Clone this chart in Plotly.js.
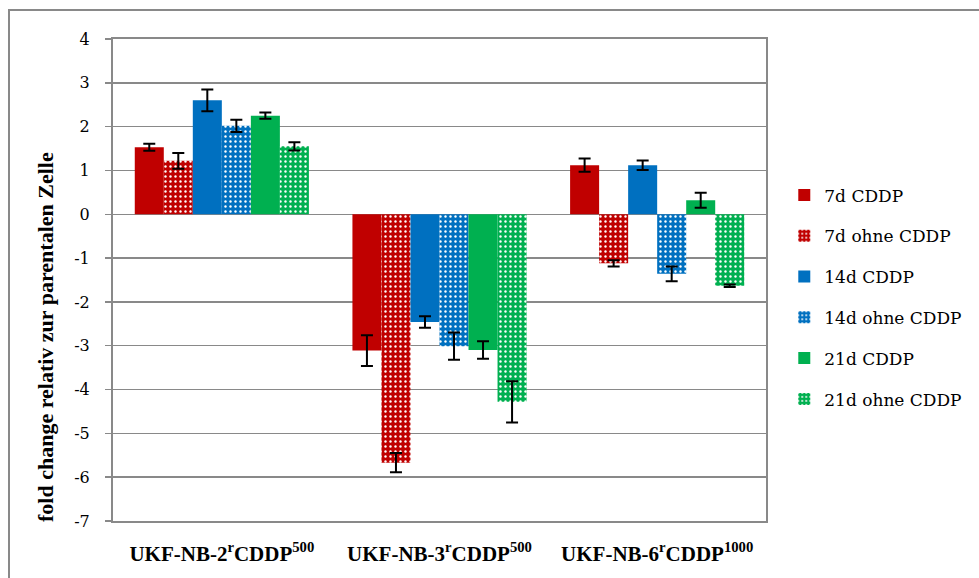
<!DOCTYPE html>
<html><head><meta charset="utf-8">
<script src="https://cdn.plot.ly/plotly-3.0.1.min.js"></script>
<style>body{margin:0;background:#fff}#c{width:979px;height:578px}</style>
</head><body><div id="c"></div>
<script>
const categories = ["UKF-NB-2<sup>r</sup>CDDP<sup>500</sup>", "UKF-NB-3<sup>r</sup>CDDP<sup>500</sup>", "UKF-NB-6<sup>r</sup>CDDP<sup>1000</sup>"];
const seriesNames = ["7d CDDP", "7d ohne CDDP", "14d CDDP", "14d ohne CDDP", "21d CDDP", "21d ohne CDDP"];
const v7d = [1.53, -3.11, 1.12];
const e7d = [0.08, 0.35, 0.15];
const v7dOhne = [1.22, -5.67, -1.12];
const e7dOhne = [0.18, 0.22, 0.07];
const v14d = [2.60, -2.46, 1.12];
const e14d = [0.25, 0.13, 0.11];
const v14dOhne = [2.02, -3.01, -1.36];
const e14dOhne = [0.14, 0.31, 0.17];
const v21d = [2.25, -3.10, 0.32];
const e21d = [0.07, 0.20, 0.17];
const v21dOhne = [1.55, -4.28, -1.63];
const e21dOhne = [0.095, 0.47, 0.03];
const yTicks = [4, 3, 2, 1, 0, -1, -2, -3, -4, -5, -6, -7];
const yTickText = ["4", "3", "2", "1", "0", "-1", "-2", "-3", "-4", "-5", "-6", "-7"];

const values = [v7d, v7dOhne, v14d, v14dOhne, v21d, v21dOhne];
const errs = [e7d, e7dOhne, e14d, e14dOhne, e21d, e21dOhne];
const colors = ["#C00000", "#C00000", "#0070C0", "#0070C0", "#00B050", "#00B050"];
const patterned = [false, true, false, true, false, true];
const xIdx = [0, 1, 2];
const serif = "Liberation Serif, DejaVu Serif, serif";
const wideSerif = "DejaVu Serif, Liberation Serif, serif";

const traces = values.map((vals, i) => ({
  type: "bar",
  name: seriesNames[i],
  x: xIdx,
  y: vals,
  legendgroup: "g" + i,
  marker: patterned[i]
    ? {color: colors[i], line: {width: 0},
       pattern: {shape: ".", fgcolor: "#ffffff", bgcolor: colors[i], size: 5, solidity: 0.18, fillmode: "replace"}}
    : {color: colors[i], line: {width: 0}},
  error_y: {type: "data", array: errs[i], visible: true, color: "#000000", thickness: 2, width: 6}
}));

const gray = "#898989";
const layout = {
  width: 979, height: 578,
  margin: {l: 113, r: 213, t: 39, b: 57},
  paper_bgcolor: "#ffffff", plot_bgcolor: "#ffffff",
  barmode: "group", bargap: 0.2, bargroupgap: 0,
  showlegend: true,
  legend: {x: 1.028, y: 0.713, xanchor: "left", yanchor: "top", tracegroupgap: 15.7,
           font: {family: wideSerif, size: 17, color: "#000"},
           itemwidth: 30, bgcolor: "rgba(0,0,0,0)"},
  font: {family: serif, color: "#000"},
  xaxis: {
    tickvals: xIdx, ticktext: categories, range: [-0.5, 2.5],
    showline: true, mirror: true, linecolor: gray, linewidth: 2,
    showgrid: false, zeroline: false, ticks: "",
    ticklabelstandoff: 13,
    tickfont: {family: serif, size: 21, color: "#000", weight: "bold"}
  },
  yaxis: {
    range: [-7, 4], tickvals: yTicks, ticktext: yTickText,
    showline: true, mirror: true, linecolor: gray, linewidth: 2,
    showgrid: true, gridcolor: gray, gridwidth: 1.5,
    zeroline: true, zerolinecolor: gray, zerolinewidth: 1.5,
    ticks: "outside", ticklen: 6, tickcolor: gray, tickwidth: 1.5,
    ticklabelstandoff: 12,
    tickfont: {family: wideSerif, size: 16, color: "#000"}
  },
  annotations: [{
    text: "<b>fold change relativ zur parentalen Zelle</b>",
    xref: "paper", yref: "paper",
    x: (45 - 113) / 653, y: (521 - 337) / 482,
    xanchor: "center", yanchor: "middle", textangle: -90, showarrow: false,
    font: {family: serif, size: 22, color: "#000"}
  }],
  shapes: [{
    type: "rect", xref: "paper", yref: "paper",
    x0: (9 - 113) / 653, x1: (990 - 113) / 653,
    y0: (521 - 600) / 482, y1: (521 - 10) / 482,
    line: {color: gray, width: 2}, fillcolor: "rgba(0,0,0,0)", layer: "below"
  }]
};

Plotly.newPlot("c", traces, layout, {staticPlot: true, displayModeBar: false});
</script></body></html>
